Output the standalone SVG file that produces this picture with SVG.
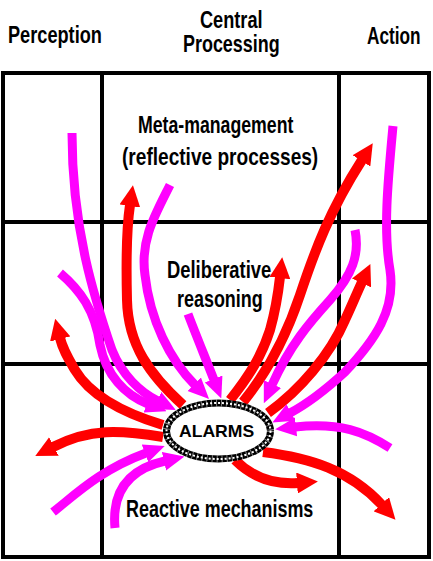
<svg xmlns="http://www.w3.org/2000/svg" width="433" height="561" viewBox="0 0 433 561">
<style>
.grid{stroke:#000;stroke-width:4;fill:none}
.t{font-family:"Liberation Sans",Arial,sans-serif;font-weight:bold;font-size:23px;fill:#000}
.al{font-family:"Liberation Sans",Arial,sans-serif;font-weight:bold;font-size:16px;fill:#000}
.m{stroke:#ff00ff;stroke-width:9;fill:none;marker-end:url(#hm)}
.r{stroke:#ff0000;stroke-width:10;fill:none;marker-end:url(#hr)}
</style>
<defs>
<marker id="hm" viewBox="0 0 20 20" markerWidth="21" markerHeight="21" markerUnits="userSpaceOnUse" refX="1" refY="10" orient="auto"><path d="M0,1 L20,10 L0,19 z" fill="#ff00ff"/></marker>
<marker id="hr" viewBox="0 0 20 20" markerWidth="21" markerHeight="21" markerUnits="userSpaceOnUse" refX="1" refY="10" orient="auto"><path d="M0,0 L20,10 L0,20 z" fill="#ff0000"/></marker>
</defs>
<rect width="433" height="561" fill="#fff"/>
<g id="grid">
<rect class="grid" x="3" y="73" width="426" height="484"/>
<line class="grid" x1="102" y1="73" x2="102" y2="557"/>
<line class="grid" x1="339" y1="73" x2="339" y2="557"/>
<line class="grid" x1="3" y1="222" x2="429" y2="222"/>
<line class="grid" x1="3" y1="364" x2="429" y2="364"/>
</g>
<g id="headers">
<text class="t" transform="translate(8,43) scale(0.79,1)">Perception</text>
<text class="t" transform="translate(200,28) scale(0.79,1)">Central</text>
<text class="t" transform="translate(183,52) scale(0.78,1)">Processing</text>
<text class="t" transform="translate(367,44) scale(0.75,1)">Action</text>
</g>
<g id="layers">
<text class="t" transform="translate(138,133) scale(0.77,1)">Meta-management</text>
<text class="t" transform="translate(122,165) scale(0.83,1)">(reflective processes)</text>
<text class="t" transform="translate(167,278) scale(0.8,1)">Deliberative</text>
<text class="t" transform="translate(177,307) scale(0.78,1)">reasoning</text>
<text class="t" transform="translate(126,517) scale(0.78,1)">Reactive mechanisms</text>
</g>
<g id="connectors">
<path class="m" d="M72,133 C72,230 95,300 112,350 C122,375 140,392 158,401"/>
<path class="m" d="M60,273 C80,290 95,310 100,345 C106,375 125,395 148,404"/>
<path class="r" d="M183,405 C150,375 128,345 127,300 C126,260 127,225 130,205"/>
<path class="m" d="M170,185 C155,215 140,240 145,275 C150,320 170,360 195,385"/>
<path class="m" d="M188,314 C196,335 205,357 214,380"/>
<path class="r" d="M230,400 C250,375 262,355 270,330 C275,312 278,295 280,277"/>
<path class="r" d="M243,402 C265,375 285,340 300,295 C315,250 330,210 362,160"/>
<path class="m" d="M355,230 C360,255 352,275 330,300 C310,322 290,345 272,385"/>
<path class="r" d="M268,413 C300,390 330,355 345,320 C352,305 356,295 362,282"/>
<path class="m" d="M393,126 C388,180 383,230 390,270 C396,310 375,340 345,372 C320,395 305,405 290,413"/>
<path class="m" d="M390,448 C365,432 340,422 295,427"/>
<path class="r" d="M263,452 C310,458 350,470 382,505"/>
<path class="r" d="M235,460 C250,475 270,485 298,483"/>
<path class="m" d="M115,528 C112,495 125,470 165,461"/>
<path class="m" d="M53,512 C75,495 100,470 146,453"/>
<path class="r" d="M163,437 C120,430 90,428 53,447"/>
<path class="r" d="M163,425 C120,412 90,395 75,370 C68,358 63,350 60,338"/>
</g>
<g id="alarms">
<ellipse cx="218.5" cy="431" rx="52" ry="28" fill="#fff" stroke="#000" stroke-width="7"/>
<ellipse cx="218.5" cy="431" rx="52" ry="28" fill="none" stroke="#fff" stroke-width="2" stroke-dasharray="2 2"/>
<ellipse cx="218.5" cy="431" rx="52" ry="28" fill="none" stroke="#fff" stroke-width="7" stroke-dasharray="1 4" stroke-opacity="0.5"/>
<text class="al" transform="translate(179,437) scale(1.1,1)">ALARMS</text>
</g>
</svg>
